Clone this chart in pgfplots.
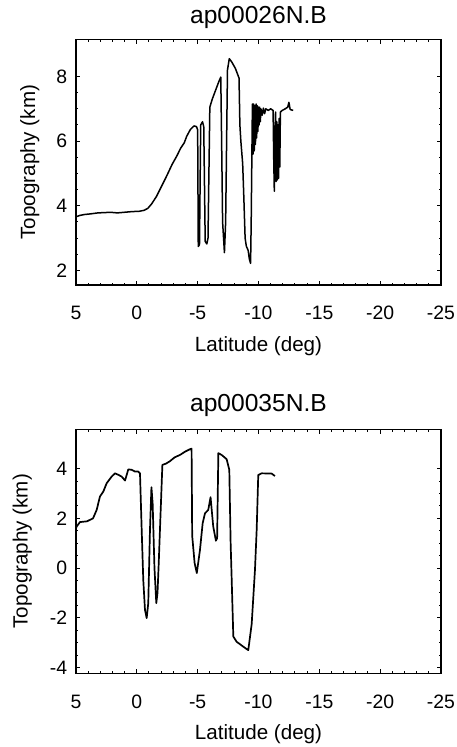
\documentclass[border=0pt]{standalone}
\usepackage{fontspec}
\setmainfont{Liberation Sans}
\usepackage{pgfplots}
\pgfplotsset{compat=1.18}
\pgfplotsset{
  panel/.style={
    scale only axis, width=182.5pt,
    x dir=reverse, xmin=-25, xmax=5,
    xtick={5,0,-5,-10,-15,-20,-25},
    minor x tick num=4, minor y tick num=3,
    tick align=inside, xtick pos=both, ytick pos=both,
    major tick length=2.2pt, minor tick length=1.2pt,
    axis line style={line width=0.7pt},
    every tick/.append style={black, line width=0.5pt},
    /pgf/number format/assume math mode=true,
    tick label style={font=\fontsize{9.7}{11}\selectfont},
    xticklabel style={anchor=base, inner sep=0pt, yshift=-17.5pt},
    yticklabel style={anchor=east, inner sep=0pt, xshift=-4.2pt},
    xlabel={Latitude (deg)}, ylabel={Topography (km)},
    label style={font=\fontsize{10.3}{12}\selectfont},
    xlabel style={at={(axis description cs:0.5,0)}, anchor=base, inner sep=0pt, yshift=-33.25pt},
    every axis title shift=0pt,
    title style={at={(axis description cs:0.5,1)}, anchor=base, inner sep=0pt, font=\fontsize{12.3}{14}\selectfont},
  },
  trace/.style={black, line width=0.75pt, line join=round, mark=none},
}

\begin{document}
\begin{tikzpicture}
\useasboundingbox (0,0) rectangle (228pt,373.5pt);

% upper panel
\begin{axis}[panel,
  at={(38pt,231pt)}, anchor=south west, height=122.85pt,
  ymin=1.55, ymax=9.15, ytick={2,4,6,8},
  title={ap00026N.B}, title style={yshift=7.7pt},
  ylabel style={at={(axis description cs:-0.1123,0.5)}, anchor=base, inner sep=0pt},
]
\addplot[trace] coordinates {
(5,3.66) (4.7,3.7) (4.3,3.73) (3.8,3.75) (3.2,3.78) (2.6,3.79) (2.2,3.8) (1.6,3.78)
(1.0,3.8) (0.4,3.82) (-0.2,3.83) (-0.6,3.86) (-0.9,3.92) (-1.2,4.05) (-1.6,4.28)
(-2.0,4.58) (-2.45,4.92) (-2.9,5.28) (-3.3,5.55) (-3.6,5.78) (-3.9,5.95) (-4.1,6.15)
(-4.4,6.36) (-4.7,6.47) (-4.9,6.45) (-5.0,6.35) (-5.05,2.74) (-5.15,2.8) (-5.25,6.5)
(-5.4,6.6) (-5.5,6.45) (-5.62,2.9) (-5.75,2.82) (-5.85,3.0) (-6.0,7.05) (-6.2,7.3)
(-6.5,7.6) (-6.75,7.85) (-6.9,7.98) (-6.97,6.0) (-7.05,3.5) (-7.2,2.55) (-7.3,3.5)
(-7.45,8.2) (-7.6,8.55) (-7.8,8.45) (-8.1,8.25) (-8.4,7.95) (-8.47,6.5) (-8.55,6.0)
(-8.7,5.3) (-8.8,4.2) (-8.9,3.0) (-9.0,2.75) (-9.15,2.62) (-9.25,2.35) (-9.35,2.22)
(-9.4,3.5) (-9.5,7.15) (-9.55,5.6) (-9.6,7.15) (-9.65,5.7) (-9.7,7.1) (-9.75,5.9)
(-9.8,7.15) (-9.85,6.1) (-9.9,7.1) (-9.95,6.3) (-10.0,7.05) (-10.05,6.5) (-10.1,7.05)
(-10.15,6.6) (-10.2,7.0) (-10.3,6.8) (-10.4,7.02) (-10.5,6.85) (-10.6,7.0) (-10.8,6.95)
(-11.0,7.0) (-11.2,6.95) (-11.25,5.5) (-11.3,4.45) (-11.35,6.0) (-11.4,6.9) (-11.45,4.75)
(-11.5,6.6) (-11.55,4.8) (-11.6,6.5) (-11.65,4.85) (-11.7,6.7) (-11.75,5.2) (-11.8,6.9)
(-11.95,6.95) (-12.2,7.0) (-12.4,7.05) (-12.5,7.2) (-12.6,6.98) (-12.85,6.95)
};
\end{axis}

% lower panel
\begin{axis}[panel,
  at={(38pt,36.85pt)}, anchor=south west, height=122pt,
  ymin=-4.23, ymax=5.58, ytick={-4,-2,0,2,4},
  title={ap00035N.B}, title style={yshift=8.8pt},
  ylabel style={at={(axis description cs:-0.1326,0.5)}, anchor=base, inner sep=0pt},
]
\addplot[trace, line width=0.85pt] coordinates {
(5,1.6) (4.95,1.67) (4.67,1.85) (4.1,1.88) (3.6,2.0) (3.3,2.34) (3.03,2.88) (2.75,3.08)
(2.48,3.41) (2.07,3.68) (1.79,3.81) (1.52,3.75) (1.25,3.68) (0.97,3.52) (0.7,3.97)
(0.42,3.95) (0.15,3.88) (-0.12,3.88) (-0.26,3.81) (-0.4,1.53) (-0.53,-0.48) (-0.67,-1.68)
(-0.81,-2.01) (-0.94,-1.41) (-1.08,1.53) (-1.2,3.25) (-1.3,2.6) (-1.45,0.0) (-1.6,-1.41)
(-1.7,-1.0) (-1.8,0.2) (-1.9,1.53) (-2.1,4.15) (-2.4,4.2) (-2.73,4.3) (-3.1,4.45)
(-3.55,4.55) (-3.96,4.68) (-4.37,4.78) (-4.5,4.8) (-4.55,1.3) (-4.75,0.2) (-4.93,-0.2)
(-5.19,0.73) (-5.41,1.8) (-5.6,2.2) (-5.87,2.34) (-6.06,2.85) (-6.28,1.67) (-6.5,1.1)
(-6.6,1.2) (-6.7,4.62) (-6.97,4.55) (-7.38,4.38) (-7.6,3.95) (-7.71,1.0) (-7.79,-0.34)
(-7.93,-2.75) (-8.2,-2.96) (-8.75,-3.16) (-9.16,-3.3) (-9.44,-2.25) (-9.71,-0.07)
(-9.85,1.53) (-9.98,3.74) (-10.26,3.81) (-11.08,3.8) (-11.35,3.7)
};
\end{axis}
\end{tikzpicture}
\end{document}
